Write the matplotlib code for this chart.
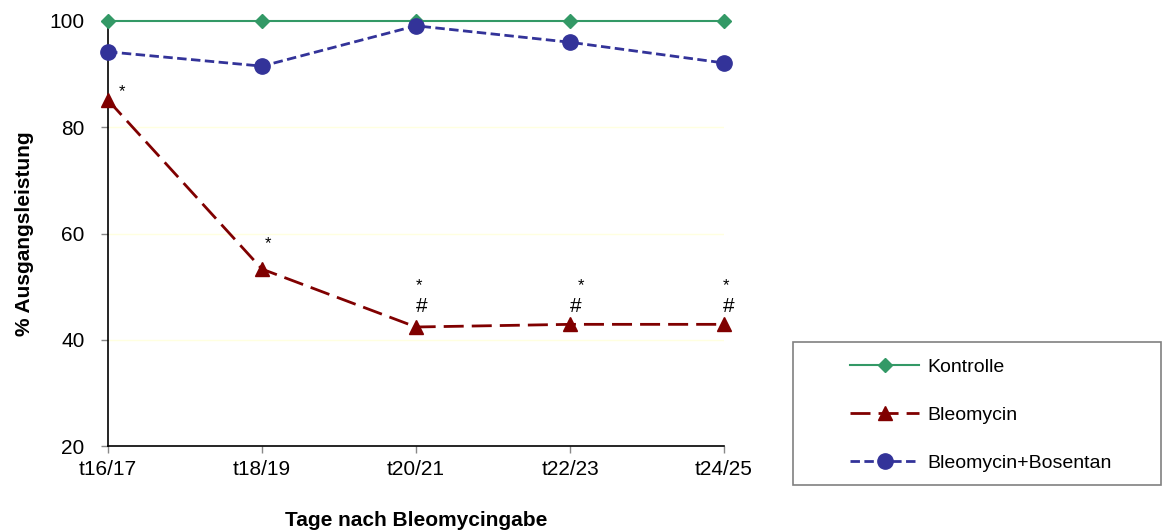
import matplotlib
matplotlib.use("Agg")
import matplotlib.pyplot as plt
from matplotlib.patches import Rectangle

plt.rcParams['font.family'] = ['Liberation Sans', 'DejaVu Sans']

categories = ["t16/17", "t18/19", "t20/21", "t22/23", "t24/25"]
kontrolle = [100, 100, 100, 100, 100]
bleomycin = [85.1, 53.3, 42.4, 42.9, 42.9]
bosentan = [94.2, 91.5, 99.1, 96.0, 92.1]
yticks = [20, 40, 60, 80, 100]
# significance marks on Bleomycin series
sig_star = [0, 1, 2, 3, 4]
sig_hash = [2, 3, 4]

fig = plt.figure(figsize=(11.62, 5.31), dpi=100)
ax = fig.add_axes([108/1162, 1 - 446/531, (724-108)/1162, (446-21)/531])

x = list(range(len(categories)))
l1, = ax.plot(x, kontrolle, color="#339966", lw=1.5, marker="D", ms=7,
              clip_on=False, zorder=3, label="Kontrolle")
l2, = ax.plot(x, bleomycin, color="#800000", lw=2, marker="^", ms=10,
              dashes=(7.2, 2.9), clip_on=False, zorder=3, label="Bleomycin")
l3, = ax.plot(x, bosentan, color="#333399", lw=2, marker="o", ms=11,
              dashes=(3.4, 1.6), clip_on=False, zorder=4, label="Bleomycin+Bosentan")

ax.set_xlim(0, 4)
ax.set_ylim(20, 100)
ax.set_yticks(yticks)
ax.set_xticks(x)
ax.set_xticklabels(categories)
for v in [40, 60, 80]:
    ax.axhline(v, color="#FFFFE0", lw=1, zorder=0)

for s in ["top", "right"]:
    ax.spines[s].set_visible(False)
for s in ["left", "bottom"]:
    ax.spines[s].set_linewidth(1.2)
ax.tick_params(axis="both", direction="out", length=5, width=1, color="#888888",
               labelsize=15)
ax.tick_params(axis="y", pad=12)
ax.tick_params(axis="x", pad=5)

ax.set_xlabel("Tage nach Bleomycingabe", fontsize=15, fontweight="bold", labelpad=23)
ax.set_ylabel("% Ausgangsleistung", fontsize=15, fontweight="bold", labelpad=11)

star_off = {0: (10, 6.5), 1: (4.3, 18), 2: (2, 30), 3: (8, 28), 4: (1.5, 28)}
for i in sig_star:
    dx, dy = star_off[i]
    ax.annotate("*", (x[i], bleomycin[i]), xytext=(dx, dy), textcoords="offset points",
                ha="center", va="center", fontsize=12)
hash_off = {2: (4, 15), 3: (4, 13), 4: (3.6, 13)}
for i in sig_hash:
    dx, dy = hash_off[i]
    ax.annotate("#", (x[i], bleomycin[i]), xytext=(dx, dy), textcoords="offset points",
                ha="center", va="center", fontsize=15)

# legend box
fig.patches.append(Rectangle((793/1162, 1 - 485/531), (1161-793)/1162, 143/531,
                             transform=fig.transFigure, fill=False,
                             edgecolor="#808080", lw=1.2))
fig.legend(handles=[l1, l2, l3], loc="upper left",
           bbox_to_anchor=(850/1162, 1 - 358/531), frameon=False,
           fontsize=14, handlelength=3.55, handletextpad=0.41, labelspacing=1.58,
           borderaxespad=0, borderpad=0)

fig.savefig("out.png", dpi=100)
